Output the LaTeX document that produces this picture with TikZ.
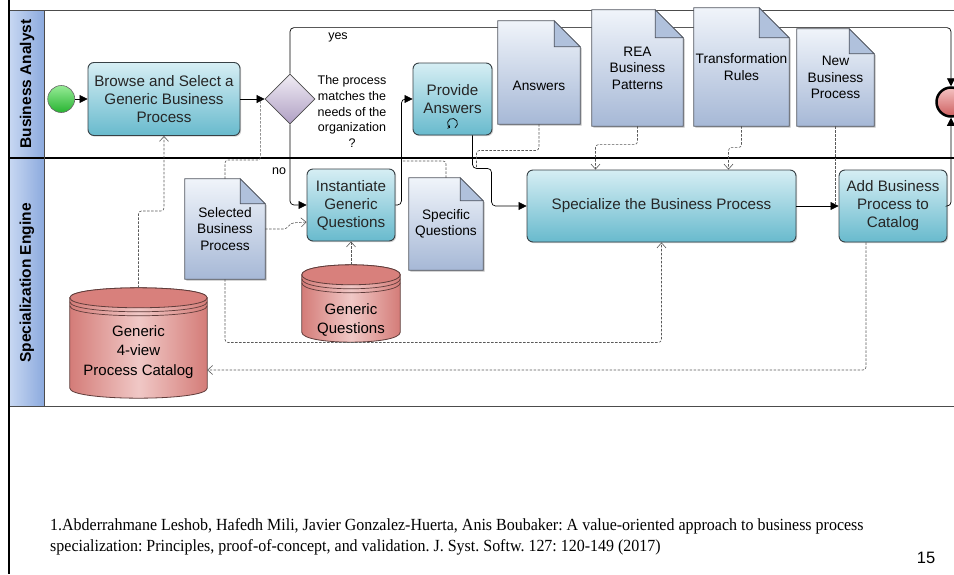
\documentclass[tikz,border=0pt]{standalone}
\usepackage{fontspec}
\setmainfont{Liberation Sans}
\newfontfamily\refserif[FakeStretch=0.94]{Liberation Serif}
\usetikzlibrary{arrows.meta,positioning,calc,shapes.geometric,shadows,backgrounds}
\pgfdeclarelayer{mid}
\pgfsetlayers{background,mid,main}
\frenchspacing

\definecolor{tasktop}{RGB}{214,238,244}
\definecolor{taskbot}{RGB}{104,186,205}
\definecolor{taskline}{RGB}{55,65,70}
\definecolor{doctop}{RGB}{240,244,250}
\definecolor{docbot}{RGB}{166,184,214}
\definecolor{docfold}{RGB}{176,193,220}
\definecolor{docline}{RGB}{80,85,95}
\definecolor{dbside}{RGB}{212,124,120}
\definecolor{dbmid}{RGB}{240,200,198}
\definecolor{dbtop}{RGB}{216,128,124}
\definecolor{dbline}{RGB}{95,60,58}
\definecolor{gwtop}{RGB}{240,236,244}
\definecolor{gwbot}{RGB}{176,160,196}
\definecolor{lanedark}{RGB}{140,170,222}
\definecolor{lanelight}{RGB}{200,216,242}

\begin{document}
\begin{tikzpicture}
	[x=1pt, y=1pt,
	task/.style={rectangle, rounded corners=6pt, draw=taskline, line width=0.9pt, top color=tasktop, bottom color=taskbot, align=center, text=black!85, font=\fontsize{15.2}{18}\selectfont, inner sep=0, drop shadow={shadow xshift=1.2pt, shadow yshift=-1.2pt, opacity=.35}},
	dataobj/.style={rectangle, inner sep=0, align=center, font=\fontsize{13.7}{16.5}\selectfont},
	store/.style={rectangle, inner sep=0},
	storetext/.style={align=center, inner sep=0, font=\fontsize{15}{19.5}\selectfont},
	gateway/.style={diamond, aspect=1, draw=black!70, line width=0.8pt, top color=gwtop, bottom color=gwbot, minimum width=50pt, minimum height=50pt, inner sep=0},
	startevent/.style={circle, draw=black!60, line width=0.6pt, minimum size=27pt, inner sep=0, top color={rgb,255:red,150;green,235;blue,150}, bottom color={rgb,255:red,40;green,180;blue,50}},
	endevent/.style={circle, draw=black, line width=2.5pt, minimum size=29pt, inner sep=0, top color={rgb,255:red,245;green,195;blue,195}, bottom color={rgb,255:red,205;green,95;blue,95}},
	seq/.style={-{Triangle[length=8pt,width=8pt]}, line width=0.7pt, rounded corners=4pt},
	assoc/.style={dash pattern=on 2.5pt off 1.5pt, draw=black!65, line width=0.6pt, rounded corners=3pt},
	opentip/.style={-{Straight Barb[length=5pt,width=9pt]}},
	lanelbl/.style={rotate=90, font=\bfseries\fontsize{15.5}{18}\selectfont},
	lbl/.style={font=\fontsize{12.5}{15}\selectfont, inner sep=0},
	qtxt/.style={align=center, inner sep=0, font=\fontsize{12.5}{15.8}\selectfont}]
	\useasboundingbox (0,0) rectangle (954,-574);

	% lanes
	\node[lanelbl] (ba) at (27,-84) {Business Analyst};
	\node[lanelbl] (se) at (27,-283) {Specialization Engine};

	% tasks and events
	\node[task, minimum width=152pt, minimum height=73pt] (browse) at (164,-99) {Browse and Select a\\Generic Business\\Process};
	\node[startevent, left=12.5pt of browse] (start) {};
	\node[gateway] (dec) at (290,-99) {};
	\node[qtxt, right=2pt of dec, yshift=-12.5pt] (question) {The process\\matches the\\needs of the\\organization\\?};
	\node[task, minimum width=79pt, minimum height=72pt] (prov) at (452.5,-99) {Provide\\Answers};
	\node[task, minimum width=88pt, minimum height=72pt] (inst) at (351,-205) {Instantiate\\Generic\\Questions};
	\node[task, minimum width=269pt, minimum height=72pt] (spec) at (661.5,-206) {Specialize the Business Process};
	\node[task, minimum width=108pt, minimum height=72pt] (addcat) at (893,-206) {Add Business\\Process to\\Catalog};
	\node[endevent] (finish) at (951,-102) {};
	\draw[line width=0.7pt, -{Straight Barb[length=1.5pt,width=3.5pt]}] ([xshift=2.5pt,yshift=7.7pt]prov.south) arc[start angle=-60, end angle=240, radius=5pt];
	\node[lbl] (yes) at (338,-37) {yes};
	\node[lbl] (no) at (279,-171) {no};

	% data objects
	\node[dataobj, minimum width=82pt, minimum height=103pt, text height=38pt, text depth=3pt] (ans) at (539,-72.5) {Answers};
	\node[dataobj, minimum width=91pt, minimum height=116pt] (rea) at (637.5,-68) {REA\\Business\\Patterns};
	\node[dataobj, minimum width=95pt, minimum height=118pt] (trf) at (741.5,-67) {Transformation\\Rules};
	\node[dataobj, minimum width=77pt, minimum height=97pt] (nbp) at (835.5,-77.5) {New\\Business\\Process};
	\node[dataobj, minimum width=80pt, minimum height=100pt] (sbp) at (225,-229) {Selected\\Business\\Process};
	\node[dataobj, minimum width=74pt, minimum height=92pt] (spq) at (446,-224) {Specific\\Questions};

	% data stores
	\node[store, minimum width=137pt, minimum height=110pt] (cat) at (138.5,-343) {};
	\node[storetext] (cattext) at ([yshift=-9pt]cat.center) {Generic\\4-view\\Process Catalog};
	\node[store, minimum width=98pt, minimum height=77pt] (gq) at (351,-303.5) {};
	\node[storetext] (gqtext) at ([yshift=-16.5pt]gq.center) {Generic\\Questions};

	\begin{scope}[on background layer]
		\fill[white] (0,0) rectangle (954,-574);
		\shade[left color=lanelight, right color=lanedark] (9,-10) rectangle (44,-406);
		\draw[black!70, line width=1pt] (9,-10) -- (954,-10);
		\draw[black!70, line width=1pt] (9,-406) -- (954,-406);
		\draw[black, line width=1.3pt] (9,-158) -- (954,-158);
		\draw[black!70, line width=0.8pt] (44,-10) -- (44,-406);
		\draw[black, line width=2.5pt] (9,0) -- (9,-574);
		\draw[seq] (dec.north) -- ++(0,46) -| (finish.north);
	\end{scope}

	\begin{pgfonlayer}{mid}
		\foreach \n/\f in {ans/26,rea/28,trf/30,nbp/25,sbp/25,spq/23}{
			\fill[black, opacity=.25, transform canvas={xshift=1.5pt,yshift=-1.5pt}] (\n.north west) -- ([xshift=-\f pt]\n.north east) -- ([yshift=-\f pt]\n.north east) -- (\n.south east) -- (\n.south west) -- cycle;
			\shadedraw[top color=doctop, bottom color=docbot, draw=docline, line width=0.8pt] (\n.north west) -- ([xshift=-\f pt]\n.north east) -- ([yshift=-\f pt]\n.north east) -- (\n.south east) -- (\n.south west) -- cycle;
			\filldraw[fill=docfold, draw=docline, line width=0.8pt] ([xshift=-\f pt]\n.north east) -- ([xshift=-\f pt,yshift=-\f pt]\n.north east) -- ([yshift=-\f pt]\n.north east) -- cycle;
		}
		\foreach \n in {cat,gq}{
			\coordinate (a) at ([yshift=-10pt]\n.north west);
			\coordinate (b) at ([yshift=-10pt]\n.north east);
			\coordinate (c) at ([yshift=10pt]\n.south west);
			\coordinate (d) at ([yshift=10pt]\n.south east);
			\shadedraw[left color=dbside, right color=dbside, middle color=dbmid, draw=dbline, line width=0.8pt] (a) -- (c) .. controls +(0,-13.3) and +(0,-13.3) .. (d) -- (b) .. controls +(0,13.3) and +(0,13.3) .. (a) -- cycle;
			\filldraw[fill=dbtop, draw=dbline, line width=0.8pt] (a) .. controls +(0,13.3) and +(0,13.3) .. (b) .. controls +(0,-13.3) and +(0,-13.3) .. (a) -- cycle;
			\draw[dbline, line width=0.7pt] ([yshift=-4pt]a) .. controls +(0,-13.3) and +(0,-13.3) .. ([yshift=-4pt]b);
			\draw[dbline, line width=0.7pt] ([yshift=-8pt]a) .. controls +(0,-13.3) and +(0,-13.3) .. ([yshift=-8pt]b);
		}
	\end{pgfonlayer}

	% sequence flows
	\coordinate (bd) at ([xshift=-4pt]dec.west);
	\coordinate (sqj) at ([xshift=6pt,yshift=44pt]inst.east);
	\coordinate (pj) at ([xshift=24pt,yshift=-33pt]prov.south);
	\draw[seq] (start) -- (browse);
	\draw[seq] (browse) -- (dec);
	\draw[seq] (dec.south) |- (inst.west);
	\draw[seq] (inst.east) -- ++(6,0) |- (prov.west);
	\draw[seq] ([xshift=20pt]prov.south) -- ++(0,-33) -| ($(spec.west)+(-35,0)$) -- (spec.west);
	\draw[seq] (spec) -- (addcat);
	\draw[seq] (addcat.east) -| (finish.south);

	% associations
	\draw[assoc, opentip] (cat.north) |- ([yshift=-75pt]browse.south) -- (browse.south);
	\draw[assoc] (sbp.north) |- ([yshift=-61pt]bd) -- (bd);
	\draw[assoc, opentip] (sbp.east) -- ++(21,0) -- ++(5,6) -- ([yshift=-17pt]inst.west);
	\draw[assoc, opentip] (sbp.south) |- ([yshift=-100pt]spec.south) -- (spec.south);
	\draw[assoc, opentip] (gq.north) -- (inst.south);
	\draw[assoc] (spq.north) |- (sqj);
	\draw[assoc] (ans.south) |- ([yshift=18pt]pj) -- (pj);
	\draw[assoc, opentip] (rea.south) |- ([xshift=-66pt,yshift=25pt]spec.north) -- ([xshift=-66pt]spec.north);
	\draw[assoc, opentip] (trf.south) |- ([xshift=67pt,yshift=22pt]spec.north) -- ([xshift=67pt]spec.north);
	\draw[assoc] (nbp.south) -- (nbp.south |- addcat.west);
	\draw[assoc, opentip] ([xshift=-27pt]addcat.south) |- ([yshift=-27pt]cat.east);

	% reference and page number
	\node[anchor=north west, align=left, inner sep=0, font=\refserif\fontsize{17}{21}\selectfont] (ref) at (50,-518.5) {1.Abderrahmane Leshob, Hafedh Mili, Javier Gonzalez-Huerta, Anis Boubaker: A value-oriented approach to business process\\specialization: Principles, proof-of-concept, and validation. J. Syst. Softw. 127: 120-149 (2017)};
	\node[font=\fontsize{16.5}{18}\selectfont] (pnum) at (926,-558) {15};
\end{tikzpicture}
\end{document}
